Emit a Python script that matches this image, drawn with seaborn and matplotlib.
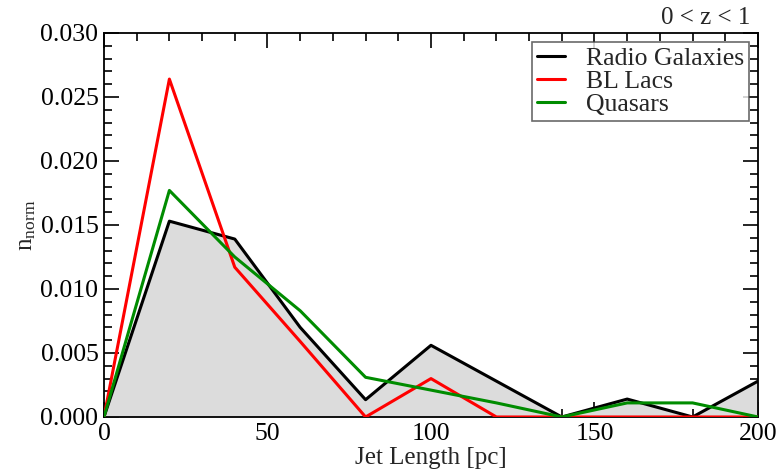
import matplotlib
matplotlib.use("Agg")
import matplotlib.pyplot as plt
import seaborn as sns
import pandas as pd
from matplotlib.ticker import MultipleLocator

jet_length = [0, 20, 40, 60, 80, 100, 120, 140, 160, 180, 200]
radio_galaxies = [0.0, 0.0153, 0.0139, 0.0070, 0.00135, 0.0056, 0.0028, 0.0, 0.0014, 0.0, 0.0028]
bl_lacs = [0.0, 0.0264, 0.0117, 0.0059, 0.0, 0.0030, 0.0, 0.0, 0.0, 0.0, 0.0]
quasars = [0.0, 0.0177, 0.0125, 0.0083, 0.0031, 0.0021, 0.0011, 0.0, 0.0011, 0.0011, 0.0]
series_names = ["Radio Galaxies", "BL Lacs", "Quasars"]
series_colors = ["#000000", "#ff0000", "#008c00"]

sns.set_style("ticks")
plt.rcParams["font.family"] = ["Liberation Serif", "DejaVu Serif"]
plt.rcParams["mathtext.fontset"] = "custom"
plt.rcParams["mathtext.rm"] = "Liberation Serif"
plt.rcParams["mathtext.it"] = "Liberation Serif:italic"

frames = []
for name, vals in zip(series_names, [radio_galaxies, bl_lacs, quasars]):
    frames.append(pd.DataFrame({"x": jet_length, "y": vals, "series": name}))
df = pd.concat(frames, ignore_index=True)

fig = plt.figure(figsize=(7.8, 4.7), dpi=100)
ax = fig.add_axes([0.1333, 0.1128, 0.8385, 0.8170])

ax.fill_between(jet_length, radio_galaxies, 0, color="#dcdcdc", linewidth=0, zorder=1)
sns.lineplot(data=df, x="x", y="y", hue="series", hue_order=series_names,
             palette=dict(zip(series_names, series_colors)), linewidth=2.2,
             ax=ax, zorder=3, sort=False)

ax.set_xlim(0, 200)
ax.set_ylim(0, 0.030)
ax.xaxis.set_major_locator(MultipleLocator(50))
ax.xaxis.set_minor_locator(MultipleLocator(10))
ax.yaxis.set_major_locator(MultipleLocator(0.005))
ax.yaxis.set_minor_locator(MultipleLocator(0.001))
ax.yaxis.set_major_formatter(matplotlib.ticker.FormatStrFormatter("%.3f"))
ax.tick_params(which="both", direction="in", top=True, right=True, width=1.2, labelsize=18.5, colors="black")
ax.tick_params(which="major", length=11, pad=4)
ax.tick_params(which="minor", length=5.5)
for sp in ax.spines.values():
    sp.set_linewidth(1.3)
    sp.set_color("black")

ax.set_xlabel("Jet Length [pc]", fontsize=18, labelpad=2)
ax.set_ylabel(r"n$_{\rm norm}$", fontsize=18, labelpad=2)
ax.text(0.988, 1.01, "0 < z < 1", transform=ax.transAxes, ha="right", va="bottom", fontsize=18)

leg = ax.legend(loc="upper right", fontsize=18.5, frameon=True, fancybox=False,
                borderaxespad=0.35, handlelength=1.1, handletextpad=0.8,
                labelspacing=0.0, borderpad=0.2)
leg.get_frame().set_edgecolor("#444444")
leg.get_frame().set_linewidth(1.2)
leg.set_title(None)

fig.savefig("out.png", dpi=100)
